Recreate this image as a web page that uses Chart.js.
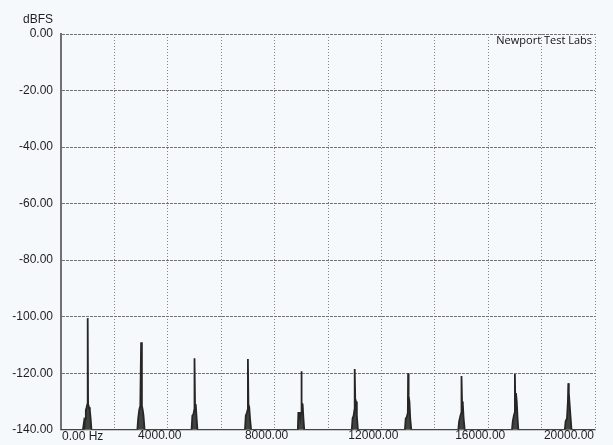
<!DOCTYPE html>
<html>
<head>
<meta charset="utf-8">
<script src="https://cdn.jsdelivr.net/npm/chart.js@4"></script>
<style>
  html, body { margin: 0; padding: 0; background: #f6f9fb; }
  #wrap { width: 613px; height: 445px; }
</style>
</head>
<body>
<div id="wrap"><canvas id="chartSpectrum"></canvas></div>
<script>
// spectrum points (Hz / dBFS)
const freqHz = [
  0,
  820, 850, 870, 900, 930, 960, 985, 1000, 1015, 1050, 1080, 1110, 1140,
  2860, 2890, 2930, 2970, 3000, 3030, 3060, 3090, 3130,
  4890, 4920, 4960, 4990, 5000, 5020, 5050, 5080, 5110,
  6890, 6920, 6960, 6990, 7000, 7020, 7050, 7080, 7120,
  8870, 8890, 8930, 8960, 8990, 9000, 9020, 9050, 9080, 9110,
  10890, 10920, 10960, 10990, 11000, 11020, 11050, 11080, 11120,
  12880, 12910, 12950, 12990, 13000, 13020, 13050, 13080, 13120,
  14880, 14910, 14960, 14990, 15000, 15020, 15050, 15080, 15120,
  16890, 16920, 16960, 16990, 17000, 17020, 17040, 17070, 17100, 17130,
  18870, 18900, 18950, 18985, 19000, 19020, 19050, 19080, 19120,
  20000
];
const levelDb = [
  -140,
  -140, -138, -140, -136, -133, -132, -131, -100.5, -131, -132, -133, -136, -140,
  -140, -136, -133, -131.5, -109, -131.5, -133, -135, -140,
  -140, -135, -134.5, -133, -114.7, -131, -131.5, -136, -140,
  -140, -135, -134, -133, -115, -131, -132, -136, -140,
  -140, -134, -134, -136, -134, -119.3, -130.5, -131, -136, -140,
  -140, -136, -135, -133, -118.5, -129, -130, -135, -140,
  -140, -136, -135.5, -134, -120, -128, -130, -136, -140,
  -140, -137, -135, -134, -121, -130, -131, -136, -140,
  -140, -137, -135, -134, -120.3, -133, -127, -130, -136, -140,
  -140, -137, -136, -130, -123.5, -127, -131, -135, -140,
  -140
];
// axis labels
const xTickValues = [0, 4000, 8000, 12000, 16000, 20000];
const xTickLabels = ["0.00 Hz", "4000.00", "8000.00", "12000.00", "16000.00", "20000.00"];
const yUnit = "dBFS";
const watermark = "Newport Test Labs";

const puntos = freqHz.map((f, i) => ({ x: f, y: levelDb[i] }));
const fuente = "Arial, 'Liberation Sans', sans-serif";

// fondo + textos extra (etiquetas del eje x, unidad, marca)
const textosPlugin = {
  id: "textos",
  beforeDraw(chart) {
    const c = chart.ctx;
    c.save();
    c.fillStyle = "#f6f9fb";
    c.fillRect(0, 0, chart.width, chart.height);
    c.restore();
  },
  afterDraw(chart) {
    const c = chart.ctx;
    const xs = chart.scales.x;
    const area = chart.chartArea;
    c.save();
    c.fillStyle = "#1e1e1e";
    c.font = "12px " + fuente;
    c.textBaseline = "middle";
    for (let i = 0; i < xTickValues.length; i++) {
      const px = xs.getPixelForValue(xTickValues[i]);
      if (i == 0) {
        c.textAlign = "left";
        c.fillText(xTickLabels[i], px + 1, area.bottom + 7);
      } else if (i == xTickValues.length - 1) {
        c.textAlign = "right";
        c.fillText(xTickLabels[i], px - 1, area.bottom + 6);
      } else {
        c.textAlign = "center";
        c.fillText(xTickLabels[i], px - 8, area.bottom + 6);
      }
    }
    c.textAlign = "right";
    c.fillText(yUnit, 53, 20);
    c.font = "11px 'Open Sans', " + fuente;
    c.fillStyle = "#111";
    c.fillText(watermark, area.right - 3, area.top + 7);
    c.restore();
  },
};

const ctx_spec = document.getElementById("chartSpectrum");
const myChart = new Chart(ctx_spec, {
  type: "line",
  data: {
    datasets: [
      {
        label: yUnit,
        data: puntos,
        borderColor: "#262626",
        borderWidth: 1.8,
        backgroundColor: "rgba(45, 45, 45, 0.9)",
        fill: "start",
        pointRadius: 0,
        tension: 0,
      },
    ],
  },
  options: {
    responsive: true,
    maintainAspectRatio: false,
    animation: false,
    layout: { padding: { top: 34, right: 18, left: 0, bottom: 0 } },
    plugins: { legend: { display: false }, tooltip: { enabled: false } },
    scales: {
      x: {
        type: "linear",
        min: 0,
        max: 20000,
        ticks: { stepSize: 2000, display: false },
        grid: { color: "#858585", lineWidth: 1, drawTicks: false },
        border: { display: true, color: "#9a9a9a", width: 1.5, dash: [1, 2] },
        afterFit: (scale) => { scale.height = 13; },
      },
      y: {
        min: -140,
        max: 0,
        ticks: {
          stepSize: 20,
          padding: 8,
          color: "#1e1e1e",
          font: { family: fuente, size: 12 },
          callback: (v) => v.toFixed(2),
        },
        grid: { color: "#727272", lineWidth: 1, drawTicks: false },
        border: { display: true, color: "#707070", width: 2, dash: [3, 1] },
        afterFit: (scale) => { scale.width = 61; },
      },
    },
  },
  plugins: [textosPlugin],
});
</script>
</body>
</html>
